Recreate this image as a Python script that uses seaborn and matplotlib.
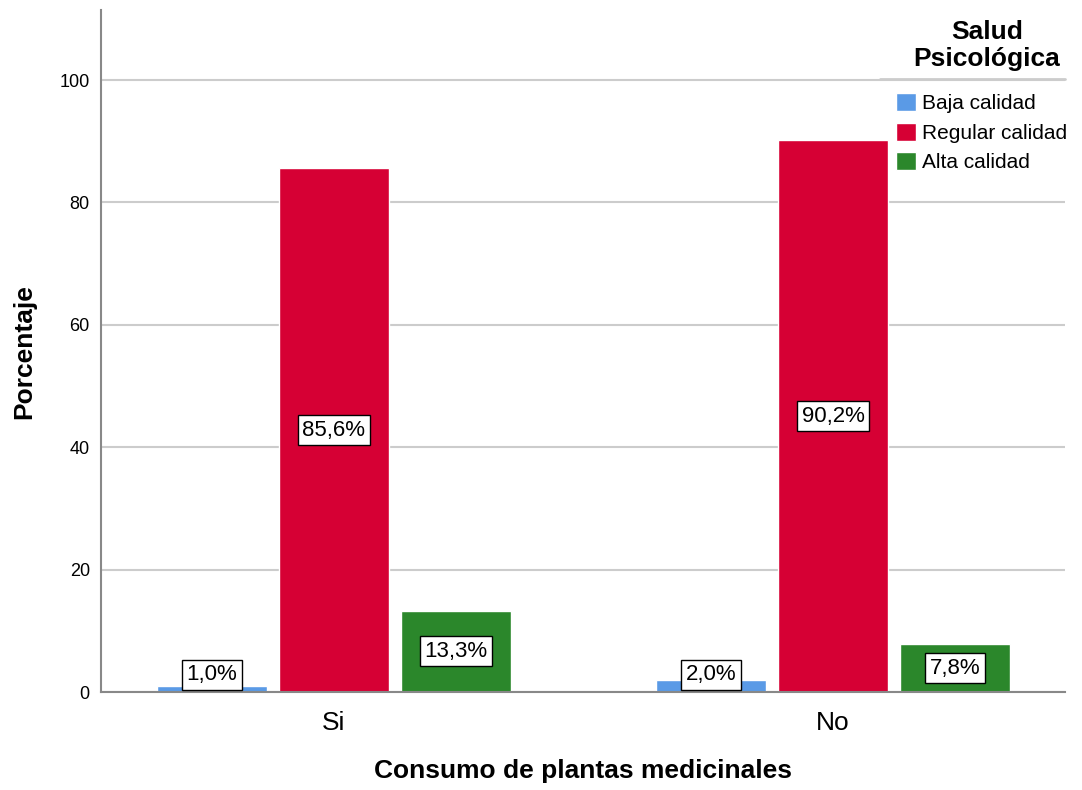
import pandas as pd
import numpy as np
import matplotlib.pyplot as plt
import seaborn as sns
from matplotlib.lines import Line2D

# === Data ===
consumo = ["Si", "No"]
niveles = ["Baja calidad", "Regular calidad", "Alta calidad"]
pct_si = [1.0, 85.6, 13.3]
pct_no = [2.0, 90.2, 7.8]
colores = ["#5a9ae6", "#d60034", "#2b872b"]

df = pd.DataFrame({
    "Consumo": np.repeat(consumo, len(niveles)),
    "Salud": niveles * len(consumo),
    "Porcentaje": pct_si + pct_no,
})

# === Plot ===
sns.set_style("white")
plt.rcParams['font.family'] = ['Liberation Sans', 'DejaVu Sans']
plt.rcParams['text.color'] = 'black'
plt.rcParams['axes.labelcolor'] = 'black'
plt.rcParams['xtick.color'] = 'black'
plt.rcParams['ytick.color'] = 'black'

fig = plt.figure(figsize=(10.82, 7.90), dpi=100)
ax = fig.add_axes([0.0933, 0.124, 0.891, 0.863])

sns.barplot(data=df, x="Consumo", y="Porcentaje", hue="Salud", order=consumo,
            hue_order=niveles, palette=colores, width=0.733, gap=0.1,
            saturation=1, legend=False, ax=ax, zorder=2)

ax.set_ylim(0, 111.4)
ax.set_xlim(-0.467, 1.465)
ax.set_yticks([0, 20, 40, 60, 80, 100])
ax.yaxis.grid(True, color="#cccccc", linewidth=1.5, zorder=0)
ax.set_axisbelow(True)
for s in ["top", "right"]:
    ax.spines[s].set_visible(False)
for s in ["left", "bottom"]:
    ax.spines[s].set_color("#888888")
    ax.spines[s].set_linewidth(1.5)
ax.tick_params(axis="y", length=0, labelsize=13, pad=8)
ax.tick_params(axis="x", length=0, labelsize=19, pad=14)
ax.set_xlabel("Consumo de plantas medicinales", fontsize=19, fontweight="bold", labelpad=17)
ax.set_ylabel("Porcentaje", fontsize=19, fontweight="bold", labelpad=17)

# value labels in boxes
for cont in ax.containers:
    for bar in cont:
        h = bar.get_height()
        x = bar.get_x() + bar.get_width() / 2
        ax.text(x, max(h / 2, 2.8), f"{h:.1f}%".replace(".", ","), ha="center", va="center",
                fontsize=16, zorder=5,
                bbox=dict(boxstyle="square,pad=0.2", facecolor="white", edgecolor="black", linewidth=1))

# legend
fig.text(0.912, 0.942, "Salud\nPsicológica", ha="center", va="center", fontsize=19,
         fontweight="bold", linespacing=1.15)
fig.add_artist(Line2D([0.813, 0.984], [0.9, 0.9], color="#cccccc", linewidth=2, transform=fig.transFigure))
handles = [plt.Rectangle((0, 0), 1, 1, facecolor=c) for c in colores]
fig.legend(handles, niveles, loc="upper left", bbox_to_anchor=(0.828, 0.882), frameon=False,
           fontsize=15, handlelength=0.95, handleheight=0.95, handletextpad=0.3,
           labelspacing=0.45, borderpad=0, borderaxespad=0)

fig.savefig("out.png", dpi=100)
